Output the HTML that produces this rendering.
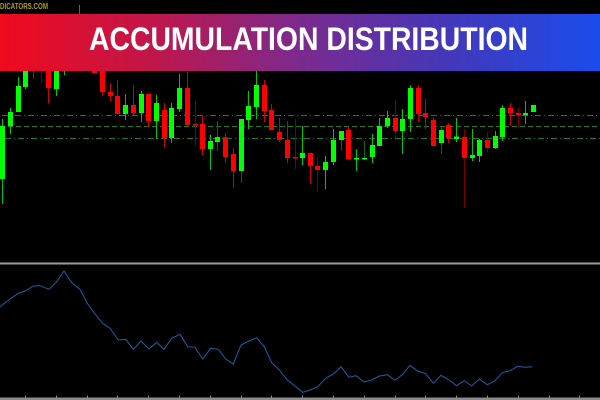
<!DOCTYPE html>
<html><head><meta charset="utf-8"><style>
html,body{margin:0;padding:0;background:#000;}
svg{display:block;}
</style></head><body>
<svg width="600" height="400" viewBox="0 0 600 400" xmlns="http://www.w3.org/2000/svg">
<defs>
<linearGradient id="bg" x1="0" y1="0" x2="1" y2="0">
<stop offset="0" stop-color="#f00a1c"/>
<stop offset="0.25" stop-color="#c1164a"/>
<stop offset="0.5" stop-color="#7b2a8e"/>
<stop offset="0.75" stop-color="#4338ba"/>
<stop offset="1" stop-color="#1a4cec"/>
</linearGradient>
</defs>
<rect width="600" height="400" fill="#000"/>
<g stroke="#1f7a1f" stroke-width="1" fill="none">
<line x1="2" y1="115.5" x2="600" y2="115.5" stroke-dasharray="6,3,1,3"/>
<line x1="0" y1="126.5" x2="600" y2="126.5" stroke-dasharray="5,3"/>
<line x1="5" y1="138.5" x2="600" y2="138.5" stroke-dasharray="6,3,1,3"/>
</g>
<g id="candles"></g>
<rect x="0" y="14" width="600" height="57" fill="url(#bg)"/>
<text x="89" y="50" font-family="Liberation Sans, sans-serif" font-weight="bold" font-size="32" fill="#fff" textLength="439" lengthAdjust="spacingAndGlyphs">ACCUMULATION DISTRIBUTION</text>
<text x="0" y="9" font-family="Liberation Sans, sans-serif" font-weight="bold" font-size="8" fill="#b39c12" textLength="48" lengthAdjust="spacingAndGlyphs">DICATORS.COM</text>
<line x1="79.5" y1="5" x2="79.5" y2="14" stroke="#0a9a0a" stroke-width="1"/>
<rect x="0" y="262.5" width="600" height="2" fill="#9a9a9a"/>
<rect x="0" y="397.5" width="600" height="2.5" fill="#8a8a8a"/>
<g id="ticks" fill="#8a8a8a"></g>
<polyline fill="none" stroke="#1a5fa8" stroke-width="1" points="0,306.7 10,299 18.3,293.3 25,291 33.3,286 40,285.7 49,289.3 56.7,281.7 64,271 71.7,282.7 80,289.3 87.3,303.3 95,314 102.7,323.3 110,328.3 118.3,340 125.7,339.3 133.3,349.3 141,341 149,349 156.7,342.3 164,349.3 171.7,338.3 180,334.3 187.7,346.7 195,347.3 202.7,359 210.7,348.3 218.3,349.3 226,359.3 233.3,364 241,345 249,341 256.7,337.7 264.3,346.7 271.7,362.7 279.3,370 287.3,380 295,386 302.7,392.3 310,390 317.7,386.7 325.7,378.3 333.3,374 341,366.7 349,377.3 356,375.7 364,382 371.7,380 379.3,376 387.3,374.7 395,380.3 402.7,374.3 410,365.3 417.7,371 425.7,373.7 433.3,383.3 441,375.3 449,380 456.7,385.7 464.3,380.7 471.7,386 479.3,379 487.3,384.7 495,380.7 502.3,372.7 510,370.7 517.7,366.3 525,367.3 532.3,366.7"/>
<script>
(function(){
var NS="http://www.w3.org/2000/svg";
var d=[
[2.5,'G',126,179,119,204],[10.5,'G',112,126,108,134],[18,'G',86,112,77,112],[25.5,'G',55,87,50,89],
[33.3,'G',45,65,35,79,1],[41,'R',50,68,40,83,1],[48.5,'R',60,88,50,103],[56.5,'G',55,89,45,96],
[64,'G',40,65,30,75],[71.8,'G',35,60,25,65],[79.5,'G',20,50,5,60],[87.2,'R',30,60,20,65],
[94.9,'R',55,73,45,73],[102.5,'R',60,92,50,96],[110.5,'R',92,96,83,101],[117.5,'R',96,114,80,114],
[125.5,'G',105,114,94,120],[133.5,'R',105,113,85,115],[141.3,'G',94,113,91,122],[148.5,'R',94,121,94,127],
[156.5,'G',103,121,95,139],[164.3,'R',110,138,103,147],[171.8,'G',108,138,103,143],[179.5,'G',88,109,74,112],
[187.3,'R',88,125,72,125],[195,'R',124,125,101,146,1],[202.5,'R',124,149,115,155],[210.5,'G',141,149,135,170],
[217.5,'G',137,142,121,151,1],[225.5,'R',137,157,133,163],[233.5,'R',154,171,148,188],[241.3,'G',119,171,119,183,1],
[248.5,'G',106,120,91,129],[256.5,'G',85,107,65,119],[264.3,'R',85,111,80,122],[271.5,'R',110,130,104,130],
[279.5,'R',132,140,118,142],[287.3,'R',140,158,121,163],[295,'R',157,158,119,169,1],[302.5,'G',153,158,126,165],
[310.5,'R',153,166,153,184],[317.8,'R',166,170,157,192,1],[325.5,'G',162,170,156,189],[333.5,'G',140,162,129,165],
[341.3,'G',131,140,131,151,1],[348.5,'R',130,159,127,160],[356.5,'G',158,159,149,171],[364.3,'G',158,159,141,160,1],
[372.2,'G',145,157,134,163],[379.5,'G',126,146,118,146],[387.5,'G',118,126,111,128],[395.3,'R',118,131,100,138,1],
[402.5,'G',119,131,109,154],[410.5,'G',88,119,85,132],[418.3,'R',88,114,85,122],[425.5,'R',113,117,99,129],
[433.5,'R',120,146,117,146],[441.2,'G',130,143,127,154,1],[448.5,'R',125,138,123,143],[456.5,'G',136.5,139,118,142],
[464.5,'R',137,158,129,208,1],[472.2,'G',155,158,129,161],[479.5,'G',140,156,139,162],[487.5,'R',140,148,132,152,1],
[495.2,'G',136,148,131,149],[502.5,'G',108,137,105,141],[510.5,'R',108,113,103,126],[518.2,'R',113,115,108,128,1],
[525.5,'G',113,115,101,124],[533.5,'G',105,112,105,112]
];
var g=document.getElementById('candles');
d.forEach(function(c){
var x=Math.round(c[0]-0.5)+0.5, g1=c[1]==='G';
var body=g1?'#00ff00':'#ff0000';
var wick=c[6]?(g1?'#0a6a0a':'#7a0000'):(g1?'#00c800':'#d00000');
var l=document.createElementNS(NS,'line');
l.setAttribute('x1',x);l.setAttribute('x2',x);l.setAttribute('y1',c[4]);l.setAttribute('y2',c[5]);
l.setAttribute('stroke',wick);l.setAttribute('stroke-width','1');g.appendChild(l);
var r=document.createElementNS(NS,'rect');
var h=Math.max(c[3]-c[2],1.5);
r.setAttribute('x',Math.round(c[0]-2.5));r.setAttribute('y',c[2]);r.setAttribute('width',5);r.setAttribute('height',h);
r.setAttribute('fill',body);g.appendChild(r);
});
var t=document.getElementById('ticks');
for(var i=0;i<19;i++){var xx=Math.round(25+30.8*i);var r2=document.createElementNS(NS,'rect');
r2.setAttribute('x',xx);r2.setAttribute('y',395.5);r2.setAttribute('width',1);r2.setAttribute('height',3);t.appendChild(r2);}
})();
</script>
</svg>
</body></html>
